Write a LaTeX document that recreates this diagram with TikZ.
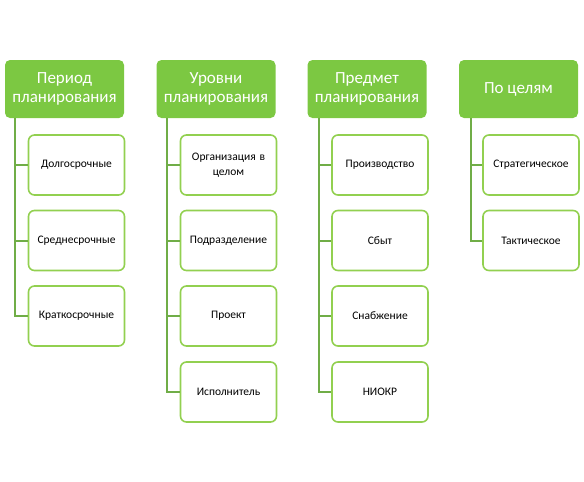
\documentclass[tikz,border=0pt]{standalone}
\usepackage{fontspec}
\setmainfont{Carlito}
\definecolor{headgreen}{RGB}{124,200,66}
\definecolor{boxgreen}{RGB}{146,208,80}
\definecolor{linegreen}{RGB}{112,173,71}
\begin{document}
\begin{tikzpicture}[
    x=1pt, y=-1pt,
    head/.style={rectangle, fill=headgreen, rounded corners=5pt, minimum width=119pt, minimum height=58pt, align=center, text=white, font=\fontsize{17}{19}\selectfont, inner sep=2pt},
    item/.style={rectangle, draw=boxgreen, line width=1.6pt, fill=white, rounded corners=6pt, minimum width=96pt, minimum height=60pt, align=center, font=\fontsize{11.5}{15}\selectfont, text width=88pt},
    link/.style={draw=linegreen, line width=2pt}
  ]
    \useasboundingbox (0,0) rectangle (584,482);

    % Период планирования
    \node[head] (h1) at (64.5,89) {Период\\планирования};
    \node[item] (c11) at (76.5,165) {Долгосрочные};
    \node[item] (c12) at (76.5,240.5) {Среднесрочные};
    \node[item] (c13) at (76.5,316) {Краткосрочные};

    % Уровни планирования
    \node[head] (h2) at (216,89) {Уровни\\планирования};
    \node[item] (c21) at (228.5,165) {Организация в\\целом};
    \node[item] (c22) at (228.5,240.5) {Подразделение};
    \node[item] (c23) at (228.5,316) {Проект};
    \node[item] (c24) at (228.5,392) {Исполнитель};

    % Предмет планирования
    \node[head] (h3) at (367,89) {Предмет\\планирования};
    \node[item] (c31) at (380,165) {Производство};
    \node[item] (c32) at (380,240.5) {Сбыт};
    \node[item] (c33) at (380,316) {Снабжение};
    \node[item] (c34) at (380,392) {НИОКР};

    % По целям
    \node[head] (h4) at (518.5,89) {По целям};
    \node[item] (c41) at (531,165) {Стратегическое};
    \node[item] (c42) at (531,240.5) {Тактическое};

    % линии
    \coordinate (t1) at ([xshift=10pt]h1.south west);
    \coordinate (t2) at ([xshift=11pt]h2.south west);
    \coordinate (t3) at ([xshift=12pt]h3.south west);
    \coordinate (t4) at ([xshift=12pt]h4.south west);
    \foreach \c in {c11,c12,c13} \draw[link] (t1) |- (\c.west);
    \foreach \c in {c21,c22,c23,c24} \draw[link] (t2) |- (\c.west);
    \foreach \c in {c31,c32,c33,c34} \draw[link] (t3) |- (\c.west);
    \foreach \c in {c41,c42} \draw[link] (t4) |- (\c.west);
  \end{tikzpicture}
\end{document}
